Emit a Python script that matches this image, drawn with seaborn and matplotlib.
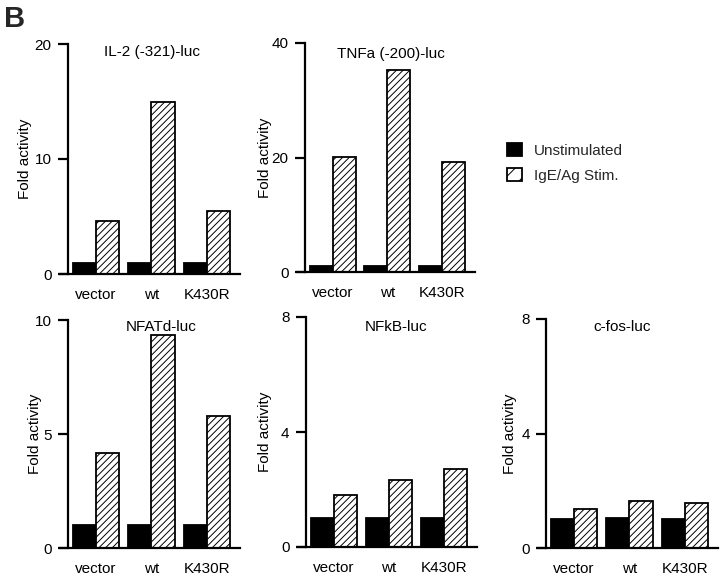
import matplotlib
matplotlib.use("Agg")
import matplotlib.pyplot as plt
import seaborn as sns
import pandas as pd
from matplotlib.patches import Patch

sns.set_theme(style="white")
plt.rcParams["font.family"] = ["Liberation Sans", "DejaVu Sans"]
plt.rcParams["hatch.linewidth"] = 0.7

# ---------------- data ----------------
categories = ["vector", "wt", "K430R"]
conditions = ["Unstimulated", "IgE/Ag Stim."]

il2_unstim = [1.0, 1.0, 1.0]
il2_stim = [4.6, 15.0, 5.5]

tnf_unstim = [1.0, 1.0, 1.0]
tnf_stim = [20.1, 35.3, 19.2]

nfat_unstim = [1.0, 1.0, 1.0]
nfat_stim = [4.15, 9.35, 5.8]

nfkb_unstim = [1.0, 1.0, 1.0]
nfkb_stim = [1.8, 2.33, 2.7]

cfos_unstim = [1.0, 1.04, 1.0]
cfos_stim = [1.36, 1.64, 1.57]

titles = ["IL-2 (-321)-luc", "TNFa (-200)-luc", "NFATd-luc", "NFkB-luc", "c-fos-luc"]
yticks_list = [[0, 10, 20], [0, 20, 40], [0, 5, 10], [0, 4, 8], [0, 4, 8]]
series = [(il2_unstim, il2_stim), (tnf_unstim, tnf_stim), (nfat_unstim, nfat_stim),
          (nfkb_unstim, nfkb_stim), (cfos_unstim, cfos_stim)]

# ---------------- layout (pixels) ----------------
W, H = 720, 576
# left, top, width, height in pixels
rects_px = [(60, 44, 180, 230), (297, 43, 178, 229),
            (60, 320, 180, 228), (298, 317, 179, 230), (538, 319, 180, 229)]
title_pos = [(0.51, 0.965), (0.53, 0.95), (0.56, 0.97), (0.55, 0.957), (0.47, 0.965)]
ylabel_x = [-0.155, -0.14, -0.10, -0.145, -0.117]
FS = 11
HATCH = "/////"

fig = plt.figure(figsize=(W / 100, H / 100), dpi=100)
palette = {"Unstimulated": "black", "IgE/Ag Stim.": "white"}

for i, ((unst, stim), rp) in enumerate(zip(series, rects_px)):
    l, t, w, h = rp
    ax = fig.add_axes([l / W, (H - t - h) / H, w / W, h / H])
    df = pd.DataFrame({
        "construct": categories * 2,
        "condition": [conditions[0]] * 3 + [conditions[1]] * 3,
        "value": list(unst) + list(stim),
    })
    sns.barplot(data=df, x="construct", y="value", hue="condition",
                order=categories, hue_order=conditions, palette=palette,
                width=0.84, edgecolor="black", linewidth=1.3, saturation=1,
                errorbar=None, legend=False, ax=ax)
    for bar in ax.containers[1]:
        bar.set_hatch(HATCH)
    ax.set_xlim(-0.65, 2.6)
    yt = yticks_list[i]
    ax.set_ylim(0, yt[-1])
    ax.set_yticks(yt)
    ax.spines["top"].set_visible(False)
    ax.spines["right"].set_visible(False)
    ax.spines["left"].set_position(("data", -0.5))
    for s in ("left", "bottom"):
        ax.spines[s].set_linewidth(1.6)
        ax.spines[s].set_color("black")
    ax.tick_params(axis="y", left=True, direction="out", length=7, width=1.6,
                   pad=5, labelsize=FS, colors="black")
    ax.tick_params(axis="x", bottom=False, length=0, pad=10, labelsize=FS,
                   colors="black")
    ax.set_xlabel("")
    ax.set_ylabel("Fold activity", fontsize=FS, color="black")
    ax.yaxis.set_label_coords(ylabel_x[i], 0.5)
    ax.text(title_pos[i][0], title_pos[i][1], titles[i], transform=ax.transAxes,
            ha="center", va="center", fontsize=FS, color="black")
    ax.set_facecolor("white")

handles = [Patch(facecolor="black", edgecolor="black", linewidth=1.3),
           Patch(facecolor="white", edgecolor="black", linewidth=1.3, hatch="//")]
fig.legend(handles=handles, labels=conditions, loc="upper left",
           bbox_to_anchor=(507 / W, 1 - 143 / H), frameon=False, fontsize=FS,
           handlelength=0.95, handleheight=0.95, handletextpad=0.8,
           labelspacing=0.65, borderpad=0, borderaxespad=0)

fig.text(4 / W, 1 - 5 / H, "B", fontsize=21, fontweight="bold", va="top", ha="left")

fig.savefig("out.png", dpi=100, facecolor="white")
